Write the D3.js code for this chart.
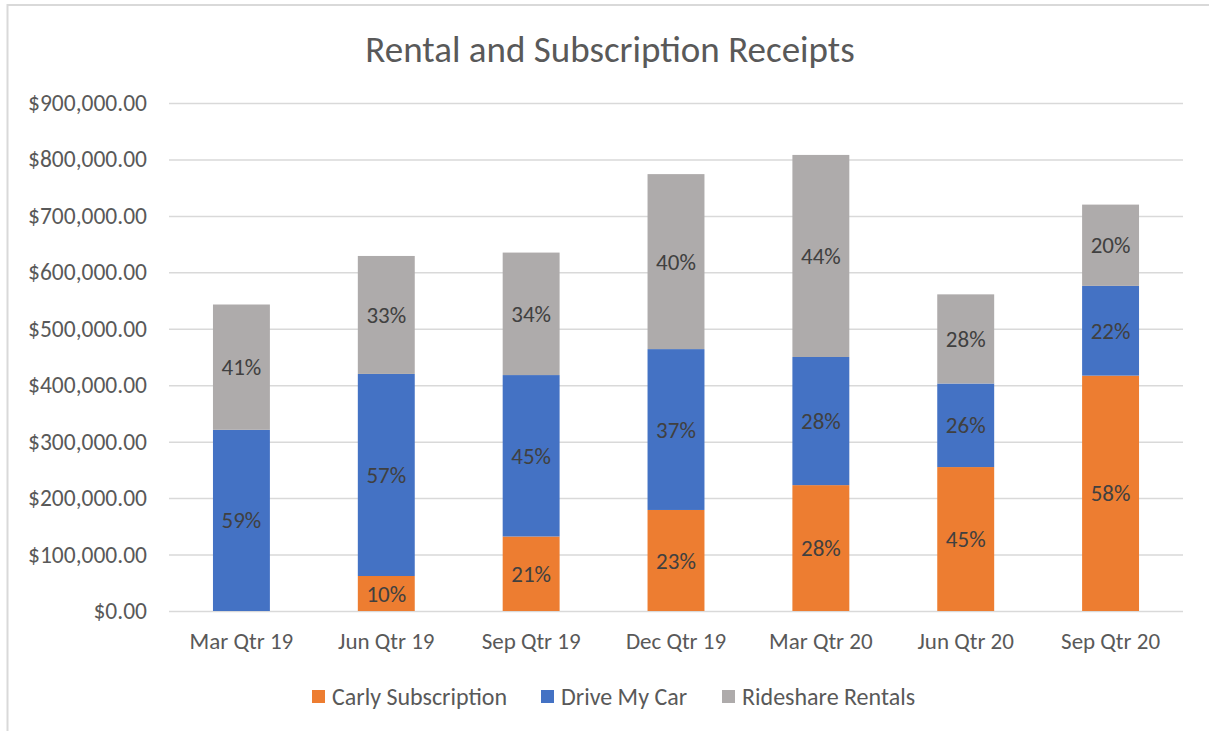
<!DOCTYPE html>
<html>
<head>
<meta charset="utf-8">
<script src="https://cdn.jsdelivr.net/npm/d3@7"></script>
<style>
  body { margin: 0; background: #fff; }
  text { font-family: Calibri, Carlito, Lato, sans-serif; }
</style>
</head>
<body>
<script>
const width = 1209;
const height = 731;

// data
const quarters = ['Mar Qtr 19', 'Jun Qtr 19', 'Sep Qtr 19', 'Dec Qtr 19', 'Mar Qtr 20', 'Jun Qtr 20', 'Sep Qtr 20'];
const carly = [0, 62000, 132000, 179000, 223000, 255000, 417000];
const driveMyCar = [321000, 358000, 286000, 285000, 227000, 148000, 159000];
const rideshare = [222000, 209000, 217000, 310000, 358000, 158000, 144000];
const seriesNames = ['Carly Subscription', 'Drive My Car', 'Rideshare Rentals'];
const seriesColors = ['#ED7D31', '#4472C4', '#AEABAB'];
const yTicks = [0, 100000, 200000, 300000, 400000, 500000, 600000, 700000, 800000, 900000];

const rows = quarters.map((q, i) => ({
  quarter: q,
  'Carly Subscription': carly[i],
  'Drive My Car': driveMyCar[i],
  'Rideshare Rentals': rideshare[i]
}));

const margin = { top: 103, right: 26, bottom: 120, left: 169 };

const svg = d3.select('body').append('svg')
  .attr('width', width)
  .attr('height', height);

// chart frame
svg.append('path')
  .attr('d', `M7.5,${height} V5 H${width}`)
  .attr('fill', 'none')
  .attr('stroke', '#D9D9D9')
  .attr('stroke-width', 2);

const x = d3.scaleBand()
  .domain(quarters)
  .range([margin.left, width - margin.right])
  .paddingInner(0.607)
  .paddingOuter(0.3035);

const y = d3.scaleLinear()
  .domain([0, 900000])
  .range([height - margin.bottom, margin.top]);

const color = d3.scaleOrdinal()
  .domain(seriesNames)
  .range(seriesColors);

// gridlines + y labels
const yAxis = svg.append('g')
  .attr('transform', `translate(${margin.left},0)`)
  .call(d3.axisLeft(y)
    .tickValues(yTicks)
    .tickSize(-(width - margin.left - margin.right))
    .tickPadding(22)
    .tickFormat(d => '$' + d3.format(',.2f')(d)));

yAxis.select('.domain').remove();
yAxis.selectAll('.tick line')
  .attr('stroke', '#D9D9D9')
  .attr('stroke-width', 1.5);
yAxis.selectAll('.tick text')
  .attr('fill', '#595959')
  .style('font-size', '23.5px');

// x labels
const xAxis = svg.append('g')
  .attr('transform', `translate(0,${height - margin.bottom})`)
  .call(d3.axisBottom(x).tickSize(0).tickPadding(22));

xAxis.select('.domain').remove();
xAxis.selectAll('.tick text')
  .attr('fill', '#595959')
  .style('font-size', '23px');

const stack = d3.stack().keys(seriesNames);
const series = stack(rows);

const totals = rows.map(r => seriesNames.reduce((s, k) => s + r[k], 0));

const layers = svg.append('g')
  .selectAll('g')
  .data(series)
  .join('g')
  .attr('fill', d => color(d.key));

layers.selectAll('rect')
  .data(d => d)
  .join('rect')
  .attr('x', d => x(d.data.quarter))
  .attr('y', d => y(d[1]))
  .attr('height', d => y(d[0]) - y(d[1]))
  .attr('width', x.bandwidth());

// percent of column labels
const pct = d3.format('.0%');
svg.append('g')
  .selectAll('g')
  .data(series)
  .join('g')
  .selectAll('text')
  .data(d => d.map((v, i) => ({ v, i })).filter(o => o.v[1] - o.v[0] > 0))
  .join('text')
  .attr('x', o => x(o.v.data.quarter) + x.bandwidth() / 2)
  .attr('y', o => y((o.v[0] + o.v[1]) / 2))
  .attr('dy', '0.35em')
  .attr('text-anchor', 'middle')
  .attr('fill', '#404040')
  .style('font-size', '23px')
  .text(o => pct((o.v[1] - o.v[0]) / totals[o.i]));

// title
svg.append('text')
  .attr('x', 610)
  .attr('y', 62)
  .attr('text-anchor', 'middle')
  .attr('fill', '#595959')
  .style('font-size', '37px')
  .text('Rental and Subscription Receipts');

// legend
const legend = svg.append('g')
  .attr('transform', 'translate(0,697)');

const legendX = [312, 541, 722];
const items = legend.selectAll('g')
  .data(seriesNames)
  .join('g')
  .attr('transform', (d, i) => `translate(${legendX[i]},0)`);

items.append('rect')
  .attr('x', 0)
  .attr('y', -7)
  .attr('width', 13)
  .attr('height', 13)
  .attr('fill', d => color(d));

items.append('text')
  .attr('x', 20)
  .attr('dy', '0.35em')
  .attr('fill', '#595959')
  .style('font-size', '24px')
  .text(d => d);
</script>
</body>
</html>
